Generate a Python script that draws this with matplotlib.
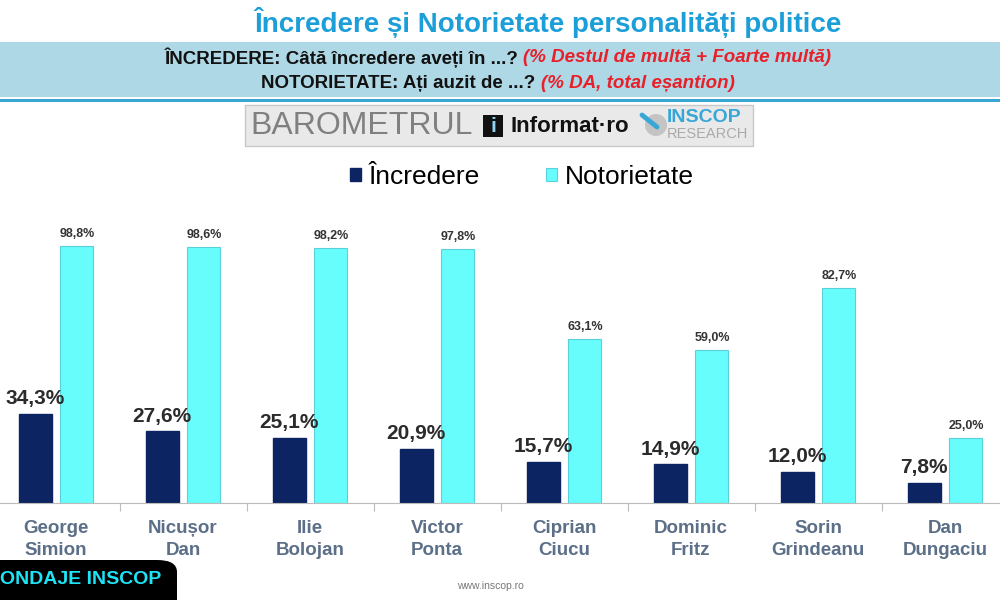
import matplotlib
matplotlib.use("Agg")
import matplotlib.pyplot as plt
from matplotlib.patches import Rectangle, FancyBboxPatch, Ellipse
from matplotlib.lines import Line2D
import numpy as np

# --- date ---
NAMES = ["George\nSimion", "Nicușor\nDan", "Ilie\nBolojan", "Victor\nPonta",
         "Ciprian\nCiucu", "Dominic\nFritz", "Sorin\nGrindeanu", "Dan\nDungaciu"]
INCREDERE = [34.3, 27.6, 25.1, 20.9, 15.7, 14.9, 12.0, 7.8]
NOTORIETATE = [98.8, 98.6, 98.2, 97.8, 63.1, 59.0, 82.7, 25.0]
SERIES = ["Încredere", "Notorietate"]

C_DARK = "#0c2461"
C_LIGHT = "#68fdfd"
C_NAME = "#5c6f88"
SANS = ["Liberation Sans", "DejaVu Sans"]


def fmt(v):
    return f"{v:.1f}%".replace(".", ",")


fig = plt.figure(figsize=(10, 6), dpi=100)

# --- header ---
fig.text(0.548, 1 - 23 / 600, "Încredere și Notorietate personalități politice",
         ha="center", va="center", fontsize=20, fontweight="bold",
         color="#1c9fd8", family=SANS)
fig.patches.append(Rectangle((0, 1 - 97 / 600), 1, 55 / 600, transform=fig.transFigure,
                             facecolor="#aed8e5", edgecolor="none", zorder=0))
fig.patches.append(Rectangle((0, 1 - 102 / 600), 1, 3 / 600, transform=fig.transFigure,
                             facecolor="#3aa6d4", edgecolor="none", zorder=0))

def two_color(y, black, red, x_center):
    t1 = fig.text(0, y, black, fontsize=13.5, fontweight="bold", color="#111",
                  family=SANS, va="center")
    t2 = fig.text(0, y, red, fontsize=13.5, fontweight="bold", style="italic",
                  color="#e8202a", family=SANS, va="center")
    r = fig.canvas.get_renderer()
    w1 = t1.get_window_extent(r).width / fig.bbox.width
    w2 = t2.get_window_extent(r).width / fig.bbox.width
    x0 = x_center - (w1 + w2 + 0.005) / 2
    t1.set_x(x0)
    t2.set_x(x0 + w1 + 0.005)

two_color(1 - 58 / 600, "ÎNCREDERE: Câtă încredere aveți în ...?",
          "(% Destul de multă + Foarte multă)", 0.498)
two_color(1 - 83 / 600, "NOTORIETATE: Ați auzit de ...?",
          "(% DA, total eșantion)", 0.498)

# --- logo barometru ---
fig.patches.append(Rectangle((245 / 1000, 1 - 146 / 600), 508 / 1000, 41 / 600,
                             transform=fig.transFigure, facecolor="#e9e9e9",
                             edgecolor="#c8c8c8", lw=1))
fig.text(0.250, 1 - 126 / 600, "BAROMETRUL", fontsize=23, color="#808080",
         family=SANS, va="center", ha="left")
fig.patches.append(Rectangle((483 / 1000, 1 - 137 / 600), 20 / 1000, 22 / 600,
                             transform=fig.transFigure, facecolor="#111", edgecolor="none"))
fig.text(0.493, 1 - 127 / 600, "i", fontsize=15, fontweight="bold", color="#8fd3f0",
         ha="center", va="center", family=SANS)
fig.text(0.510, 1 - 127 / 600, "Informat·ro", fontsize=16, fontweight="bold",
         color="#111", family=SANS, va="center")
fig.patches.append(Ellipse((0.656, 1 - 125 / 600), 22 / 1000, 22 / 600,
                           transform=fig.transFigure, facecolor="#c4c4c4",
                           edgecolor="none"))
fig.lines.append(Line2D([0.642, 0.657], [1 - 115 / 600, 1 - 127 / 600],
                        transform=fig.transFigure, color="#39a7d6", lw=3.5,
                        solid_capstyle="round"))
fig.text(0.667, 1 - 118 / 600, "INSCOP", fontsize=14, fontweight="bold",
         color="#39a7d6", family=SANS, va="center")
fig.text(0.667, 1 - 134 / 600, "RESEARCH", fontsize=10.5, color="#aaaaaa",
         family=SANS, va="center")

# --- grafic ---
ax = fig.add_axes([0, 1 - 503 / 600, 1, 303 / 600])
x = np.arange(len(NAMES))
off, w = 0.165, 0.26
b1 = ax.bar(x - off, INCREDERE, w, color=C_DARK, edgecolor=C_DARK, label=SERIES[0])
b2 = ax.bar(x + off, NOTORIETATE, w, color=C_LIGHT, edgecolor="#5ad0d8", lw=0.8,
            label=SERIES[1])

for xi, v in zip(x, INCREDERE):
    ax.text(xi - off, v + 2.2, fmt(v), ha="center", va="bottom", fontsize=15,
            fontweight="bold", color="#2b2b2b", family=SANS)
for xi, v in zip(x, NOTORIETATE):
    ax.text(xi + off, v + 2.2, fmt(v), ha="center", va="bottom", fontsize=9,
            fontweight="bold", color="#333", family=SANS)
for xi, n in zip(x, NAMES):
    ax.text(xi, -6.5, n, ha="center", va="top", fontsize=13.5, fontweight="bold",
            color=C_NAME, family=SANS, linespacing=1.38)

ax.set_xlim(-56 / 127, 944 / 127)
ax.set_ylim(0, 303 / 2.6)
ax.set_xticks(x[:-1] + 0.5)
ax.set_xticklabels([])
ax.tick_params(axis="x", length=6, color="#bbbbbb", direction="out")
ax.set_yticks([])
for s in ["top", "right", "left"]:
    ax.spines[s].set_visible(False)
ax.spines["bottom"].set_color("#bbbbbb")
ax.patch.set_visible(False)

fig.legend(handles=[b1, b2], loc="center", bbox_to_anchor=(0.522, 1 - 177 / 600),
           ncol=2, frameon=False, handlelength=0.42, handleheight=0.42,
           handletextpad=0.3, columnspacing=2.5, prop={"family": SANS, "size": 19})

# --- subsol ---
fig.text(0.490, 1 - 586 / 600, "www.inscop.ro", fontsize=7.5, color="#777",
         ha="center", va="center", family=SANS)
fig.patches.append(FancyBboxPatch((-0.02, -0.05), 0.197, 1 - 560 / 600 + 0.05,
                                  boxstyle="round,pad=0,rounding_size=0.02",
                                  transform=fig.transFigure, facecolor="black",
                                  edgecolor="none", zorder=5))
t = fig.text(0.0, 1 - 580 / 600, "ONDAJE INSCOP", fontsize=14, fontweight="bold",
             color="#1ee3f5", family=SANS, va="center", ha="left")
t.set_zorder(6)

fig.savefig("out.png", dpi=100)
